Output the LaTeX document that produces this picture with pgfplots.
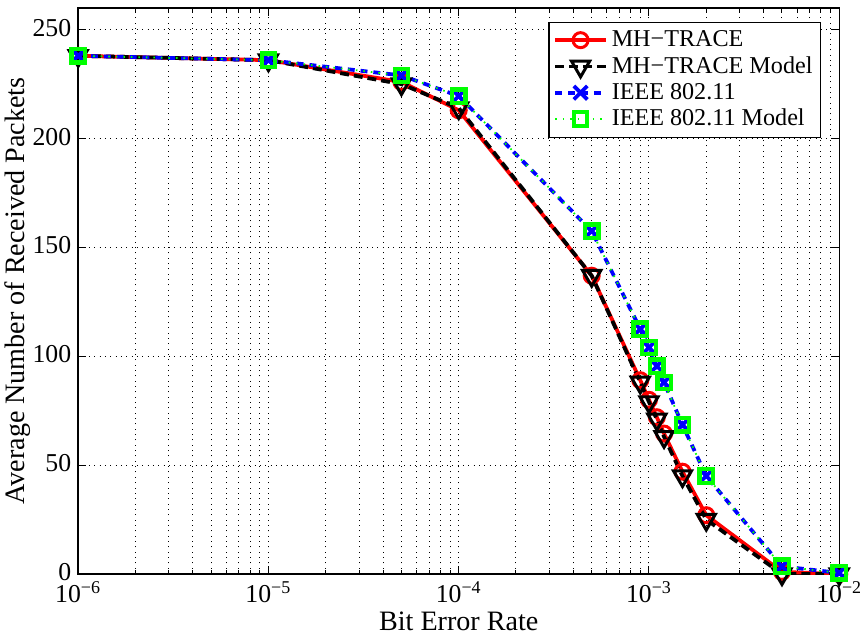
\documentclass[border=0pt]{standalone}
\usepackage{fontspec}
\setmainfont{Liberation Serif}
\usepackage{pgfplots}
\pgfplotsset{compat=1.18}
\begin{document}
\begin{tikzpicture}
\begin{axis}[
  name=ax,
  scale only axis,
  width=384.5pt, height=286pt,
  xmode=log,
  xmin=1e-6, xmax=1e-2,
  ymin=0, ymax=260,
  ytick={0,50,100,150,200,250},
  xtick={1e-6,1e-5,1e-4,1e-3,1e-2},
  xticklabels={10\textsuperscript{−6},10\textsuperscript{−5},10\textsuperscript{−4},10\textsuperscript{−3},10\textsuperscript{−2}},
  /pgf/number format/assume math mode=true,
  tick label style={font=\fontsize{13}{14}\selectfont},
  xticklabel style={yshift=-0.5pt},
  yticklabel style={yshift=1pt},
  label style={font=\fontsize{14.2}{15}\selectfont},
  xlabel={Bit Error Rate},
  ylabel={Average Number of Received Packets},
  xlabel style={yshift=2.5pt},
  ylabel style={yshift=-6pt},
  tick align=inside,
  major tick length=4pt,
  minor tick length=2pt,
  axis line style={line width=0.7pt},
  every tick/.style={black, line width=0.5pt},
  xmajorgrids, xminorgrids, ymajorgrids,
  grid style={black, line width=0.5pt, dash pattern=on 0.5pt off 2.2pt},
  minor grid style={black, line width=0.5pt, dash pattern=on 0.5pt off 2.2pt},
  legend style={at={(rel axis cs:1,1)}, anchor=north east, xshift=-9pt, yshift=-7pt,
    font=\fontsize{12.2}{13.5}\selectfont, draw=black, line width=0.6pt,
    row sep=-0.5pt, inner sep=2.2pt},
  legend cell align=left,
  legend image code/.code={\draw[mark repeat=2, mark phase=2, #1] plot coordinates {(0cm,0cm) (0.45cm,0cm) (0.9cm,0cm)};},
]
\addplot[red, line width=1.9pt, mark=o, mark size=3.8pt, mark options={solid, line width=1.5pt}] coordinates {
(1e-6,238) (1e-5,236) (5e-5,226) (1e-4,213) (5e-4,137) (9e-4,89) (1e-3,80) (1.1e-3,72) (1.2e-3,64.5) (1.5e-3,47) (2e-3,27) (5e-3,1) (1e-2,0)};
\addlegendentry{MH−TRACE}
\addplot[black, line width=1.9pt, dash pattern=on 4.5pt off 2.5pt, mark=triangle, mark size=5.3pt, mark options={solid, rotate=180, line width=1.5pt}] coordinates {
(1e-6,238) (1e-5,236) (5e-5,225) (1e-4,214) (5e-4,137) (9e-4,88) (1e-3,79) (1.1e-3,71) (1.2e-3,63) (1.5e-3,45) (2e-3,25) (5e-3,0) (1e-2,0)};
\addlegendentry{MH−TRACE Model}
\addplot[blue, line width=1.9pt, dash pattern=on 3.5pt off 3pt, mark=x, mark size=4.8pt, mark options={solid, line width=1.9pt}] coordinates {
(1e-6,238) (1e-5,236) (5e-5,229) (1e-4,219.5) (5e-4,157.5) (9e-4,112.5) (1e-3,104) (1.1e-3,95.5) (1.2e-3,88) (1.5e-3,68.5) (2e-3,45) (5e-3,3.5) (1e-2,0.5)};
\addlegendentry{IEEE 802.11}
\addplot[green, line width=0.9pt, dash pattern=on 0.8pt off 3pt, mark=square, mark size=3.4pt, mark options={solid, line width=2.2pt}] coordinates {
(1e-6,238) (1e-5,236) (5e-5,229) (1e-4,219.5) (5e-4,157.5) (9e-4,112.5) (1e-3,104) (1.1e-3,95.5) (1.2e-3,88) (1.5e-3,68.5) (2e-3,45) (5e-3,3.5) (1e-2,0.5)};
\addlegendentry{IEEE 802.11 Model}
\end{axis}
\pgfresetboundingbox
\path ([shift={(-39.5pt,-30.5pt)}]ax.south west) rectangle ([shift={(13pt,4pt)}]ax.north east);
\end{tikzpicture}
\end{document}
